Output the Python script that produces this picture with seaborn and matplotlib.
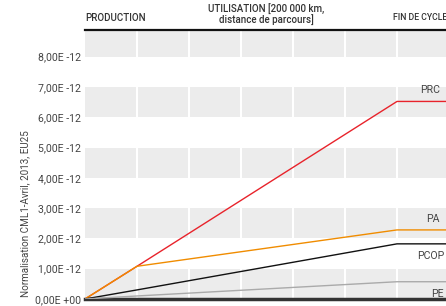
import matplotlib
matplotlib.use("Agg")
import matplotlib.pyplot as plt
import seaborn as sns
import pandas as pd
from matplotlib import font_manager

sns.set_style("white")
fams = [f.name for f in font_manager.fontManager.ttflist]
main_font = "Liberation Sans Narrow" if "Liberation Sans Narrow" in fams else "Roboto"
plt.rcParams['font.family'] = [main_font, 'DejaVu Sans']

# Data (units of 1E-12)
stages = [0, 1, 6, 7]
prc = [0.0, 1.08, 6.52, 6.52]
pa = [0.0, 1.08, 2.28, 2.28]
pcop = [0.0, 0.30, 1.82, 1.82]
pe = [0.0, 0.10, 0.57, 0.57]
series_names = ["PRC", "PA", "PCOP", "PE"]
colors = ["#e8232b", "#f08c00", "#111111", "#aaaaaa"]
yticks = [0, 1, 2, 3, 4, 5, 6, 7, 8]
ytick_labels = ["0,00E +00", "1,00E -12", "2,00E -12", "3,00E -12", "4,00E -12",
                "5,00E -12", "6,00E -12", "7,00E -12", "8,00E -12"]
ylabel = "Normalisation CML1-Avril, 2013, EU25"
headers = ["PRODUCTION", "UTILISATION [200 000 km,\ndistance de parcours]", "FIN DE CYCLE"]

rows = []
for name, vals in zip(series_names, [prc, pa, pcop, pe]):
    for x, v in zip(stages, vals):
        rows.append({"stage": x, "value": v, "serie": name})
df = pd.DataFrame(rows)

W, H = 446, 306
fig = plt.figure(figsize=(W / 100, H / 100), dpi=100)
ax = fig.add_axes([85 / W, 1 - 299 / H, 361 / W, (299 - 30) / H])

ax.set_xlim(0, 361 / 52)
ax.set_ylim(0, (299 - 30) / 30.3)

# alternating bands
for lo in range(0, 9, 2):
    ax.axhspan(lo, lo + 1, color="#ececec", lw=0, zorder=0)
for xv in range(1, 7):
    ax.axvline(xv, color="white", lw=1.5, zorder=1)

sns.lineplot(data=df, x="stage", y="value", hue="serie", hue_order=series_names,
             palette=colors, legend=False, lw=1.0, ax=ax, zorder=3)

ax.set_yticks(yticks)
ax.set_yticklabels(ytick_labels)
ax.set_xticks([])
ax.tick_params(axis="y", length=0, pad=3, labelsize=7.6, labelcolor="#444444")
ax.set_xlabel("")
ax.set_ylabel("")

for s in ["left", "right"]:
    ax.spines[s].set_visible(False)
ax.spines["top"].set_color("#111111")
ax.spines["top"].set_linewidth(1.6)
ax.spines["bottom"].set_color("#333333")
ax.spines["bottom"].set_linewidth(2.5)

# series labels
offsets = {"PRC": 8, "PA": 8, "PCOP": -9, "PE": -9}
xpos = {"PRC": 6.63, "PA": 6.69, "PCOP": 6.65, "PE": 6.77}
for name, vals in zip(series_names, [prc, pa, pcop, pe]):
    ax.annotate(name, (xpos[name], vals[-1]), xytext=(0, offsets[name]),
                textcoords="offset points", ha="center", va="center",
                fontsize=7.6, color="#444444")

# headers
hdr = dict(color="#333333", fontweight="medium")
fig.text(85 / W, 1 - 18 / H, headers[0], ha="left", va="center", fontsize=7.0, **hdr)
fig.text(266 / W, 1 - 15 / H, headers[1], ha="center", va="center",
         linespacing=1.05, fontsize=7.0, **hdr)
fig.text(393 / W, 1 - 17 / H, headers[2], ha="left", va="center", fontsize=6.3, **hdr)

fig.text(25 / W, 1 - 297 / H, ylabel, rotation=90, ha="center", va="bottom",
         fontsize=7.1, color="#444444")

fig.savefig("out.png", dpi=100)
